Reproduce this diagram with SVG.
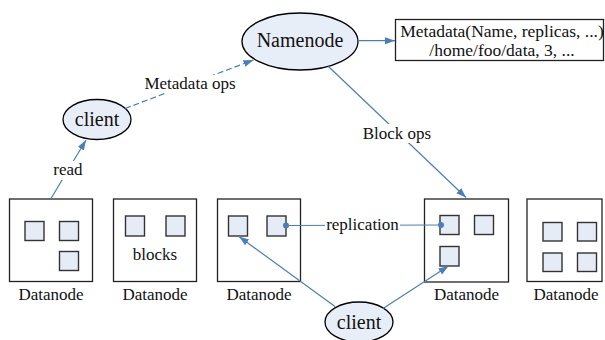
<svg xmlns="http://www.w3.org/2000/svg" width="605" height="340" viewBox="0 0 605 340">
<style>
.ell{fill:#e8eef8;stroke:#000;stroke-width:1.3}
.box{fill:#fff;stroke:#222;stroke-width:1.3}
.blk{fill:#e6ecf6;stroke:#333;stroke-width:1.4}
.big{font-size:20px}
.lbl{font-size:17px}
.md{font-size:17.5px}
.c{stroke:#4a7ebb;stroke-width:1.2;fill:none}
.bg{fill:#fff}
</style>
<defs>
<marker id="arr" markerUnits="userSpaceOnUse" markerWidth="11" markerHeight="8" refX="10" refY="3.5" orient="auto">
<path d="M0,0 L10,3.5 L0,7 z" fill="#4a7ebb"/>
</marker>
<marker id="dot" markerUnits="userSpaceOnUse" markerWidth="8" markerHeight="8" refX="4" refY="4">
<circle cx="4" cy="4" r="3" fill="#4a7ebb"/>
</marker>
</defs>
<rect width="605" height="340" fill="#fff"/>
<g font-family="Liberation Serif, Times New Roman, serif" fill="#111" text-anchor="middle">
<g id="namenode">
<ellipse class="ell" cx="300" cy="41.5" rx="58" ry="28.5"/>
<text class="big" x="300" y="47">Namenode</text>
</g>

<g id="client1">
<ellipse class="ell" cx="97" cy="119.5" rx="34" ry="20"/>
<text class="big" x="97" y="126">client</text>
</g>

<g id="client2">
<ellipse class="ell" cx="359" cy="322" rx="34" ry="20"/>
<text class="big" x="359" y="329">client</text>
</g>

<g id="metadata">
<rect class="box" x="395.5" y="19.5" width="208" height="41"/>
<text class="md" x="502" y="37">Metadata(Name, replicas, ...)</text>
<text class="md" x="502" y="56">/home/foo/data, 3, ...</text>
</g>

<g id="datanode1">
<rect class="box" x="9.5" y="199" width="83" height="82.5"/>
<rect class="blk" x="25" y="221.5" width="19" height="19"/>
<rect class="blk" x="59.5" y="221.5" width="19" height="19"/>
<rect class="blk" x="59.5" y="251.5" width="19" height="19"/>
<text class="lbl" x="51" y="299.5">Datanode</text>
</g>

<g id="datanode2">
<rect class="box" x="113.5" y="199" width="83" height="82.5"/>
<rect class="blk" x="125.5" y="216" width="19" height="20"/>
<rect class="blk" x="166" y="216" width="19" height="20"/>
<text class="lbl" x="155" y="260">blocks</text>
<text class="lbl" x="155" y="299.5">Datanode</text>
</g>

<g id="datanode3">
<rect class="box" x="217.5" y="199" width="83" height="82.5"/>
<rect class="blk" x="228.5" y="216" width="19" height="20"/>
<rect class="blk" x="267" y="216" width="19" height="20"/>
<text class="lbl" x="259" y="299.5">Datanode</text>
</g>

<g id="datanode4">
<rect class="box" x="424.5" y="199" width="84" height="83"/>
<rect class="blk" x="440" y="215.5" width="19" height="19"/>
<rect class="blk" x="474.5" y="215.5" width="19" height="19"/>
<rect class="blk" x="440" y="246.5" width="19" height="19.5"/>
<text class="lbl" x="466.5" y="299.5">Datanode</text>
</g>

<g id="datanode5">
<rect class="box" x="527" y="199" width="75" height="82.5"/>
<rect class="blk" x="543" y="222.5" width="19" height="18.5"/>
<rect class="blk" x="577.5" y="222.5" width="19" height="18.5"/>
<rect class="blk" x="543" y="253" width="19" height="18.5"/>
<rect class="blk" x="577.5" y="253" width="19" height="18.5"/>
<text class="lbl" x="566" y="299.5">Datanode</text>
</g>

<g id="connectors">
<line class="c" x1="51" y1="198.5" x2="86" y2="140" marker-end="url(#arr)"/>
<line class="c" x1="125" y1="108.5" x2="253.5" y2="60" stroke-dasharray="6,3" marker-end="url(#arr)"/>
<line class="c" x1="358.5" y1="40.7" x2="395" y2="40.7" marker-end="url(#arr)"/>
<line class="c" x1="328.5" y1="66.5" x2="466" y2="197.5" marker-end="url(#arr)"/>
<line class="c" x1="286" y1="225.5" x2="441" y2="225" marker-start="url(#dot)" marker-end="url(#dot)"/>
<line class="c" x1="335" y1="306.5" x2="239" y2="236.5" marker-end="url(#arr)"/>
<line class="c" x1="383" y1="308.5" x2="448.5" y2="266" marker-end="url(#arr)"/>
<rect class="bg" x="53" y="161" width="30" height="19"/>
<text class="lbl" x="68" y="175">read</text>
<rect class="bg" x="143" y="75" width="94" height="18"/>
<text class="lbl" x="190" y="88.5">Metadata ops</text>
<rect class="bg" x="361" y="124" width="71" height="19"/>
<text class="lbl" x="397" y="138.5">Block ops</text>
<rect class="bg" x="325" y="216" width="75" height="18"/>
<text class="lbl" x="362.5" y="230">replication</text>
</g>
</g>
</svg>
